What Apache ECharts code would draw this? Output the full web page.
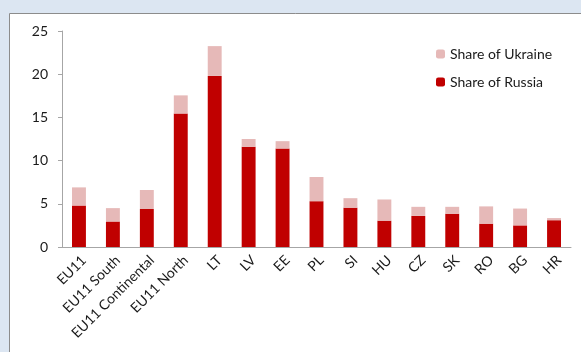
<!DOCTYPE html>
<html><head><meta charset="utf-8">
<script src="https://cdn.jsdelivr.net/npm/echarts@6/dist/echarts.min.js"></script>
<style>html,body{margin:0;padding:0;}#c{width:581px;height:352px;}</style>
</head><body><div id="c"></div>
<script>
const categories = ['EU11','EU11 South','EU11 Continental','EU11 North','LT','LV','EE','PL','SI','HU','CZ','SK','RO','BG','HR'];
const russia = [4.8, 2.95, 4.4, 15.45, 19.8, 11.6, 11.4, 5.3, 4.55, 3.05, 3.6, 3.85, 2.7, 2.5, 3.1];
const ukraine = [2.1, 1.55, 2.2, 2.1, 3.45, 0.9, 0.85, 2.8, 1.1, 2.45, 1.05, 0.8, 2.0, 1.95, 0.25];
const yTicks = [0, 5, 10, 15, 20, 25];

const font = 'Lato';
const chart = echarts.init(document.getElementById('c'));
chart.setOption({
  backgroundColor: '#dce6f2',
  animation: false,
  textStyle: {fontFamily: font},
  graphic: [{
    type: 'rect', z: -10, silent: true,
    shape: {x: 9.5, y: 13.5, width: 600, height: 400},
    style: {fill: '#ffffff', stroke: '#8c8c8c', lineWidth: 1}
  }],
  legend: {
    orient: 'vertical', left: 431, top: 42, itemWidth: 9, itemHeight: 9, itemGap: 14,
    textStyle: {fontFamily: font, fontSize: 14, color: '#1a1a1a'},
    data: ['Share of Ukraine', 'Share of Russia']
  },
  grid: {left: 62, right: 10, top: 31, bottom: 105, containLabel: false},
  xAxis: {
    type: 'category', data: categories,
    axisLine: {lineStyle: {color: '#a6a6a6'}},
    axisTick: {alignWithLabel: false, length: 4, lineStyle: {color: '#a6a6a6'}},
    axisLabel: {rotate: 45, interval: 0, fontSize: 14, color: '#1a1a1a', fontFamily: font, margin: 6, verticalAlign: 'top'}
  },
  yAxis: {
    type: 'value', min: yTicks[0], max: yTicks[yTicks.length - 1], interval: 5,
    splitLine: {show: false},
    axisLine: {show: true, lineStyle: {color: '#a6a6a6'}},
    axisTick: {show: true, length: 4, lineStyle: {color: '#a6a6a6'}},
    axisLabel: {fontSize: 14, color: '#1a1a1a', fontFamily: font, margin: 14}
  },
  series: [
    {name: 'Share of Russia', type: 'bar', stack: 's', data: russia, barWidth: '41%',
     itemStyle: {color: '#c00000'}},
    {name: 'Share of Ukraine', type: 'bar', stack: 's', data: ukraine, barWidth: '41%',
     itemStyle: {color: '#e6b9b8'}}
  ]
});
</script></body></html>
